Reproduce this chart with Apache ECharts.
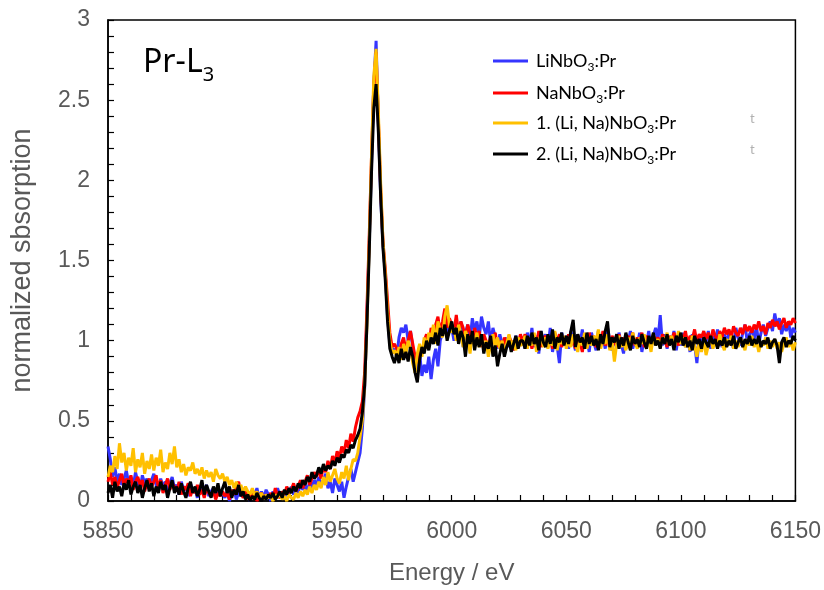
<!DOCTYPE html>
<html>
<head>
<meta charset="utf-8">
<script src="https://cdn.jsdelivr.net/npm/echarts@6/dist/echarts.min.js"></script>
<style>
html,body{margin:0;padding:0;background:#fff;}
#chart{width:824px;height:590px;}
</style>
</head>
<body>
<div id="chart"></div>
<script>
// Energy grid (eV), 1 eV sampling
const energyStart = 5850;
const energyCount = 301;
const xTicks = [5850, 5900, 5950, 6000, 6050, 6100, 6150];
const yTicks = [0, 0.5, 1, 1.5, 2, 2.5, 3];

const seriesNames = ['LiNbO3:Pr', 'NaNbO3:Pr', '1. (Li, Na)NbO3:Pr', '2. (Li, Na)NbO3:Pr'];

const liNbO3 = [
0.34,0.26,0.15,0.21,0.12,0.17,0.10,0.14,0.19,0.11,
0.15,0.09,0.18,0.12,0.07,0.16,0.11,0.14,0.08,0.13,
0.17,0.10,0.06,0.14,0.09,0.12,0.05,0.11,0.15,0.08,
0.10,0.04,0.12,0.07,0.09,0.03,0.11,0.06,0.08,0.02,
0.09,0.05,0.07,0.10,0.03,0.06,0.08,0.02,0.07,0.04,
0.05,
0.02,0.06,0.00,0.04,0.07,0.01,0.05,0.03,0.08,0.02,
0.05,0.00,0.07,0.03,0.08,0.01,0.06,0.02,0.07,0.04,
0.00,0.06,0.02,0.08,0.03,0.05,0.01,0.07,0.04,0.09,
0.04,0.09,0.05,0.11,0.07,0.10,0.06,0.12,0.08,0.13,
0.10,0.15,0.09,0.13,0.17,0.08,0.12,0.05,0.14,0.10,
0.06,0.12,0.02,0.09,0.15,0.20,0.12,0.18,0.24,0.30,
0.45,0.70,
1.15,1.60,2.10,2.60,2.87,2.35,1.90,1.60,1.42,1.15,0.98,0.92,0.95,
0.90,1.02,1.08,1.05,1.10,1.00,1.06,0.96,0.88,0.82,
0.92,0.78,0.85,0.80,0.90,0.76,0.88,0.95,0.84,1.00,
1.05,1.10,1.02,1.12,1.08,
1.00,1.08,1.02,1.12,0.96,1.05,1.10,1.00,1.14,1.06,
1.12,1.02,1.15,1.08,1.04,1.12,0.98,1.08,1.02,0.95,
1.04,0.98,0.92,1.02,0.96,1.00,0.94,1.03,0.97,1.01,
1.02,0.95,1.05,0.98,1.08,0.96,1.03,0.92,1.06,0.99,
1.04,0.96,1.08,0.93,1.01,0.97,0.86,1.05,0.98,1.03,
0.95,1.06,1.00,0.94,1.04,0.98,1.07,0.96,1.02,0.93,
1.05,0.99,0.94,1.06,0.97,1.03,0.95,1.08,1.00,0.94,
1.02,0.96,1.05,0.98,0.92,1.04,0.99,1.06,0.95,1.01,
0.97,1.05,0.93,1.02,0.98,1.06,0.95,1.03,1.08,1.00,
1.16,0.97,1.04,0.95,1.02,0.99,1.06,0.94,1.03,0.97,
1.05,0.96,1.01,0.93,1.04,0.98,0.86,1.02,0.97,1.05,
0.99,1.06,0.95,1.03,0.98,1.07,1.00,0.96,1.04,0.98,
1.06,1.00,0.95,1.08,1.02,0.97,1.05,1.10,0.99,1.04,
1.07,1.01,1.09,0.98,1.05,1.10,1.03,1.08,1.12,1.06,
1.17,1.09,1.14,1.04,1.10,1.06,1.12,1.02,1.08,1.05
];

const naNbO3 = [
0.12,0.18,0.10,0.15,0.08,0.13,0.17,0.09,0.14,0.11,
0.16,0.07,0.12,0.15,0.10,0.13,0.06,0.11,0.14,0.09,
0.12,0.16,0.08,0.13,0.05,0.10,0.14,0.07,0.11,0.09,
0.06,0.12,0.04,0.09,0.07,0.11,0.03,0.08,0.05,0.10,
0.04,0.07,0.02,0.08,0.05,0.03,0.06,0.01,0.05,0.03,
0.06,
0.03,0.05,0.01,0.07,0.04,0.09,0.12,0.05,0.02,0.06,
0.01,0.04,0.02,0.06,0.00,0.03,0.05,0.01,0.04,0.02,
0.05,0.01,0.08,0.03,0.02,0.06,0.04,0.09,0.05,0.07,
0.11,0.06,0.09,0.13,0.08,0.12,0.16,0.10,0.14,0.18,
0.15,0.20,0.14,0.22,0.18,0.25,0.20,0.28,0.24,0.31,
0.27,0.34,0.30,0.38,0.33,0.42,0.37,0.46,0.52,0.56,
0.62,0.80,
1.20,1.65,2.15,2.60,2.80,2.38,1.95,1.62,1.45,1.25,1.05,0.96,0.98,
0.95,0.92,0.98,1.02,0.94,1.00,1.06,0.98,0.90,0.86,
0.95,0.92,1.00,1.04,0.96,1.08,1.02,1.10,1.15,1.05,
1.12,1.20,1.08,1.14,1.10,
1.06,1.16,1.04,1.12,1.08,1.02,1.10,1.05,0.98,1.08,
1.02,1.06,0.96,1.04,1.00,0.94,1.03,0.98,1.05,0.96,
1.00,0.95,1.02,0.97,1.03,0.99,0.94,1.02,0.98,1.04,
0.99,1.04,0.97,1.02,0.95,1.03,0.98,1.06,0.96,1.01,
1.03,0.97,1.02,0.95,1.05,0.99,1.04,0.96,1.01,0.98,
1.04,0.97,1.02,0.95,1.03,0.99,0.93,1.01,0.97,1.05,
0.98,1.03,0.96,1.01,0.99,1.06,0.97,1.02,0.95,1.03,
1.00,0.96,1.04,0.98,1.02,0.95,1.03,0.99,1.05,0.97,
1.02,0.98,1.05,0.96,1.03,1.00,0.97,1.04,0.99,1.02,
0.98,1.04,1.00,0.96,1.03,0.99,1.05,1.01,0.97,1.04,
1.00,1.06,0.98,1.03,1.01,1.07,0.99,1.04,1.02,1.06,
1.01,1.05,0.99,1.07,1.03,1.00,1.06,1.02,1.08,1.04,
1.07,1.02,1.09,1.05,1.03,1.08,1.04,1.10,1.06,1.09,
1.05,1.10,1.07,1.12,1.06,1.09,1.04,1.11,1.08,1.13,
1.09,1.12,1.07,1.11,1.14,1.08,1.12,1.10,1.14,1.11
];

const liNaNbO3_1 = [
0.15,0.22,0.18,0.28,0.20,0.36,0.24,0.30,0.19,0.27,
0.22,0.33,0.18,0.26,0.21,0.30,0.17,0.25,0.20,0.29,
0.19,0.27,0.22,0.32,0.18,0.24,0.20,0.30,0.23,0.34,
0.21,0.26,0.18,0.23,0.16,0.21,0.19,0.24,0.17,0.20,
0.16,0.21,0.14,0.19,0.15,0.18,0.12,0.20,0.16,0.14,
0.17,
0.12,0.15,0.10,0.13,0.08,0.12,0.07,0.10,0.05,0.09,
0.06,0.04,0.08,0.03,0.06,0.02,0.05,0.01,0.04,0.02,
0.03,0.00,0.04,0.02,0.05,0.01,0.03,0.00,0.04,0.02,
0.01,0.05,0.02,0.06,0.03,0.07,0.04,0.09,0.05,0.10,
0.07,0.12,0.08,0.15,0.10,0.18,0.12,0.16,0.20,0.14,
0.11,0.18,0.14,0.22,0.13,0.20,0.26,0.25,0.30,0.40,
0.50,0.72,
1.10,1.60,2.15,2.65,2.82,2.42,1.98,1.62,1.42,1.18,1.00,0.92,0.94,
0.90,0.96,0.88,0.98,0.92,1.00,0.95,0.86,0.80,0.92,
0.98,0.90,1.02,0.95,1.05,1.00,1.10,0.98,1.12,1.06,
1.02,1.15,1.22,1.10,1.05,
1.08,1.00,1.10,1.04,0.96,1.06,1.02,0.92,1.04,0.98,
1.05,0.96,1.02,0.94,1.00,0.90,0.98,1.04,0.96,1.02,
0.95,1.00,0.92,0.98,1.04,0.96,1.00,0.94,1.02,0.97,
0.98,1.03,0.95,1.01,0.97,1.05,0.93,1.00,1.04,0.96,
1.02,0.95,1.00,0.97,1.06,0.94,1.01,0.98,1.03,0.95,
1.00,0.96,1.04,0.98,0.93,1.02,0.97,1.05,0.95,1.01,
0.97,1.03,0.99,1.07,0.95,1.01,0.98,1.04,0.94,1.00,
0.87,0.98,1.03,0.96,1.00,0.94,1.02,0.97,1.05,0.99,
0.95,1.02,0.98,1.04,0.96,1.00,0.93,1.03,0.97,1.01,
0.96,1.02,0.99,1.05,0.97,1.03,0.95,1.00,1.06,0.98,
1.02,0.96,1.00,0.94,1.03,0.97,0.90,0.99,0.93,1.01,
0.91,0.97,1.02,0.95,1.00,0.96,1.04,0.98,0.94,1.01,
0.97,1.03,0.95,1.00,0.96,1.02,0.98,0.94,1.01,0.97,
1.03,0.96,1.00,0.93,0.99,0.97,1.02,0.95,1.00,0.96,
1.01,0.95,0.99,0.93,0.98,1.02,0.96,1.00,0.94,0.99
];

const liNaNbO3_2 = [
0.05,0.10,0.02,0.12,0.06,0.09,0.03,0.11,0.07,0.13,
0.04,0.09,0.12,0.05,0.10,0.02,0.08,0.13,0.06,0.11,
0.03,0.09,0.05,0.12,0.07,0.10,0.02,0.08,0.13,0.05,
0.09,0.04,0.11,0.06,0.02,0.08,0.12,0.05,0.09,0.03,
0.07,0.13,0.04,0.10,0.06,0.02,0.09,0.05,0.11,0.03,
0.08,
0.12,0.05,0.09,0.02,0.07,0.04,0.10,0.03,0.06,0.01,
0.04,0.00,0.03,0.01,0.05,0.02,0.00,0.03,0.01,0.04,
0.02,0.05,0.01,0.03,0.06,0.02,0.07,0.04,0.08,0.05,
0.09,0.06,0.11,0.08,0.13,0.10,0.15,0.12,0.18,0.14,
0.16,0.21,0.17,0.23,0.19,0.22,0.20,0.25,0.22,0.27,
0.24,0.29,0.27,0.32,0.30,0.35,0.33,0.38,0.41,0.45,
0.55,0.72,
1.10,1.55,2.05,2.45,2.60,2.30,1.90,1.58,1.38,1.12,0.95,0.90,0.86,
0.92,0.86,0.95,0.88,0.93,0.87,0.96,0.90,0.80,0.74,
0.88,0.96,0.92,1.00,0.94,1.02,0.98,1.05,0.97,1.08,
1.03,1.10,1.00,1.06,1.12,
1.04,1.08,0.98,1.06,1.02,0.90,1.04,0.98,1.06,0.94,
1.02,0.96,1.04,0.92,0.99,0.95,1.03,0.90,0.97,0.84,
0.92,0.98,0.90,0.96,1.00,0.93,0.98,1.03,0.95,1.00,
1.00,0.95,1.03,0.97,1.05,0.98,1.02,0.94,1.06,0.99,
0.96,1.04,0.98,1.07,0.95,1.02,0.99,1.05,0.97,1.03,
0.98,1.06,1.13,0.96,1.04,0.99,1.02,0.95,1.05,0.98,
1.03,0.97,1.01,0.94,1.04,0.98,1.06,1.12,0.96,1.02,
0.99,1.04,0.95,1.02,0.97,1.05,0.99,0.94,1.03,0.98,
1.01,0.96,1.04,0.99,0.95,1.03,0.98,1.05,0.97,1.00,
0.95,1.02,0.98,1.04,0.97,1.01,0.94,1.03,0.99,1.05,
0.97,1.02,0.96,1.00,0.94,1.03,0.98,1.01,0.95,1.02,
0.99,0.96,1.03,0.98,1.01,0.95,1.00,0.97,1.02,0.96,
1.00,0.97,1.03,0.95,0.99,1.02,0.96,1.01,0.98,1.03,
0.97,1.01,0.98,1.03,0.96,1.00,0.98,1.02,0.95,0.99,
1.01,0.97,0.86,0.99,1.02,0.96,1.00,0.98,1.03,1.00
];

const energy = [];
for (let i = 0; i < energyCount; i++) energy.push(energyStart + i);

const colors = ['#3535FF', '#FF0000', '#FFC000', '#000000'];
const values = [liNbO3, naNbO3, liNaNbO3_1, liNaNbO3_2];

function pairs(arr) { return arr.map((v, i) => [energy[i], v]); }

const legendRich = {
  m: { fontSize: 18, lineHeight: 24, fontFamily: 'Lato', color: '#000' },
  s: { fontSize: 12, lineHeight: 12, verticalAlign: 'bottom', fontFamily: 'Lato', color: '#000' }
};
function legendFmt(name) {
  return '{m|' + name.replace('O3', 'O}{s|3}{m|') + '}';
}
const legendTops = [47, 79, 109, 140];

const chart = echarts.init(document.getElementById('chart'), null, { renderer: 'canvas' });
chart.setOption({
  animation: false,
  backgroundColor: '#ffffff',
  color: colors,
  grid: { left: 108, right: 27, top: 20, bottom: 82, show: true, borderColor: '#000', borderWidth: 1.5 },
  legend: seriesNames.map((n, i) => ({
    data: [n], left: 488, top: legendTops[i], orient: 'vertical',
    icon: 'rect', itemWidth: 35, itemHeight: 3,
    formatter: legendFmt,
    textStyle: { rich: legendRich, padding: [0, 0, 0, 3] }
  })),
  xAxis: {
    type: 'value', min: 5850, max: 6150, interval: 50,
    name: 'Energy / eV', nameLocation: 'middle', nameGap: 60,
    nameTextStyle: { fontSize: 24, color: '#595959', fontFamily: 'Liberation Sans' },
    axisLine: { lineStyle: { color: '#000', width: 1.5 } },
    axisTick: { inside: true, length: 6, lineStyle: { color: '#000', width: 1.2 } },
    minorTick: { show: true, splitNumber: 5, length: 6, lineStyle: { color: '#000', width: 1.2 } },
    axisLabel: { fontSize: 23, color: '#595959', fontFamily: 'Liberation Sans', margin: 19,
      formatter: v => xTicks.includes(v) ? String(v) : '' },
    splitLine: { show: false }
  },
  yAxis: {
    type: 'value', min: 0, max: 3, interval: 0.5,
    name: 'normalized sbsorption', nameLocation: 'middle', nameGap: 72,
    nameTextStyle: { fontSize: 27, color: '#595959', fontFamily: 'Liberation Sans' },
    axisLine: { lineStyle: { color: '#000', width: 1.5 } },
    axisTick: { inside: true, length: 6, lineStyle: { color: '#000', width: 1.2 } },
    minorTick: { show: true, splitNumber: 5, length: 6, lineStyle: { color: '#000', width: 1.2 } },
    axisLabel: { fontSize: 23, color: '#595959', fontFamily: 'Liberation Sans', margin: 18,
      formatter: v => yTicks.includes(v) ? String(v) : '' },
    splitLine: { show: false }
  },
  graphic: [
    { type: 'text', left: 143, top: 47, style: {
        text: '{m|Pr-L}{s|3}',
        rich: {
          m: { fontSize: 32, lineHeight: 44, fontFamily: 'Noto Sans', fill: '#000' },
          s: { fontSize: 20, lineHeight: 20, verticalAlign: 'bottom', fontFamily: 'Noto Sans', fill: '#000' }
        } } },
    { type: 'text', left: 750, top: 112, style: { text: 't', fontSize: 13, fontFamily: 'Lato', fill: '#b0b0b0' } },
    { type: 'text', left: 750, top: 143, style: { text: 't', fontSize: 13, fontFamily: 'Lato', fill: '#b0b0b0' } }
  ],
  series: seriesNames.map((n, i) => ({
    name: n, type: 'line', data: pairs(values[i]),
    showSymbol: false, symbol: 'none', clip: true,
    lineStyle: { color: colors[i], width: 3 },
    itemStyle: { color: colors[i] }
  }))
});
</script>
</body>
</html>
